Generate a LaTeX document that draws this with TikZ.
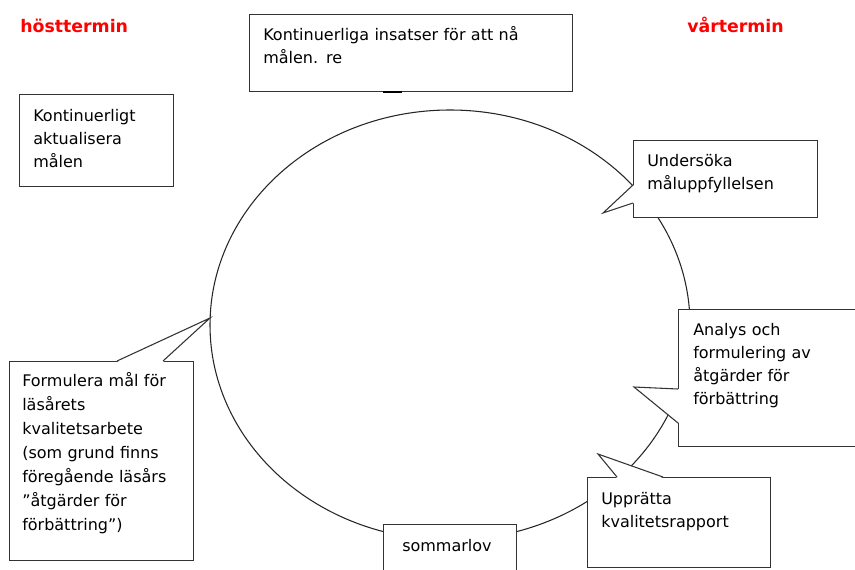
\documentclass[tikz,border=0pt]{standalone}
\usepackage{fontspec}
\setmainfont{DejaVu Sans}
\begin{document}
\begin{tikzpicture}[x=0.75pt, y=-0.75pt,
  box/.style={rectangle, draw=black!80, line width=0.8pt, fill=white,
                        anchor=north west, inner sep=0pt},
  tail/.style={draw=black!80, line width=0.8pt},
  txt/.style={anchor=base west, inner sep=0pt, align=left, text width=260pt,
                        font=\fontsize{12}{17.25}\selectfont},
  term/.style={anchor=base west, inner sep=0pt, text=red,
                        font=\fontsize{13}{15}\selectfont\bfseries}]
\clip (0,0) rectangle (855,569);

\draw[black!85, line width=0.8pt] (450,325) ellipse [x radius=180pt, y radius=161.25pt];

\node[term] (ht) at (20,32) {hösttermin};
\node[term] (vt) at (687,32) {vårtermin};

\node[box, minimum width=242.25pt, minimum height=57.75pt] (ins) at (249,14) {};
\node[box, minimum width=115.5pt, minimum height=69pt] (kont) at (19,94) {};
\node[box, minimum width=138pt, minimum height=57.75pt] (und) at (633,140) {};
\node[box, minimum width=144pt, minimum height=102.75pt] (ana) at (678,309) {};
\node[box, minimum width=137.25pt, minimum height=67.5pt] (upp) at (587,477) {};
\node[box, minimum width=99.75pt, minimum height=45.75pt] (som) at (383,524) {};
\node[box, minimum width=138pt, minimum height=149.25pt] (form) at (9,361) {};

\draw[line width=2pt] ([shift={(134,0)}]ins.south west) -- ([shift={(153,0)}]ins.south west);

\coordinate (und-tip) at (603,213);
\coordinate (ana-tip) at (634,387);
\coordinate (upp-tip) at (598,454);
\coordinate (form-tip) at (210,318);

\fill[white] ([shift={(1,45)}]und.north west) -- (und-tip) -- ([shift={(1,63)}]und.north west) -- cycle;
\draw[tail] ([shift={(0,45)}]und.north west) -- (und-tip) -- ([shift={(0,63)}]und.north west);

\fill[white] ([shift={(1,80)}]ana.north west) -- (ana-tip) -- ([shift={(1,114)}]ana.north west) -- cycle;
\draw[tail] ([shift={(0,80)}]ana.north west) -- (ana-tip) -- ([shift={(0,114)}]ana.north west);

\fill[white] ([shift={(30,1)}]upp.north west) -- (upp-tip) -- ([shift={(76,1)}]upp.north west) -- cycle;
\draw[tail] ([shift={(30,0)}]upp.north west) -- (upp-tip) -- ([shift={(76,0)}]upp.north west);

\fill[white] ([shift={(108,1)}]form.north west) -- (form-tip) -- ([shift={(154,1)}]form.north west) -- cycle;
\draw[tail] ([shift={(108,0)}]form.north west) -- (form-tip) -- ([shift={(154,0)}]form.north west);

\node[txt] (ins-t) at ([shift={(14,26)}]ins.north west) {Kontinuerliga insatser för att nå\\målen. re};
\node[txt] (kont-t) at ([shift={(14,27)}]kont.north west) {Kontinuerligt\\aktualisera\\målen};
\node[txt] (und-t) at ([shift={(14,26)}]und.north west) {Undersöka\\måluppfyllelsen};
\node[txt] (ana-t) at ([shift={(15,26)}]ana.north west) {Analys och\\formulering av\\åtgärder för\\förbättring};
\node[txt] (upp-t) at ([shift={(14,27)}]upp.north west) {Upprätta\\kvalitetsrapport};
\node[txt] (som-t) at ([shift={(19,27)}]som.north west) {sommarlov};
\node[txt, font=\fontsize{12}{18}\selectfont] (form-t) at ([shift={(13,25)}]form.north west)
  {Formulera mål för\\läsårets\\kvalitetsarbete\\(som grund finns\\föregående läsårs\\”åtgärder för\\förbättring”)};

\end{tikzpicture}
\end{document}
